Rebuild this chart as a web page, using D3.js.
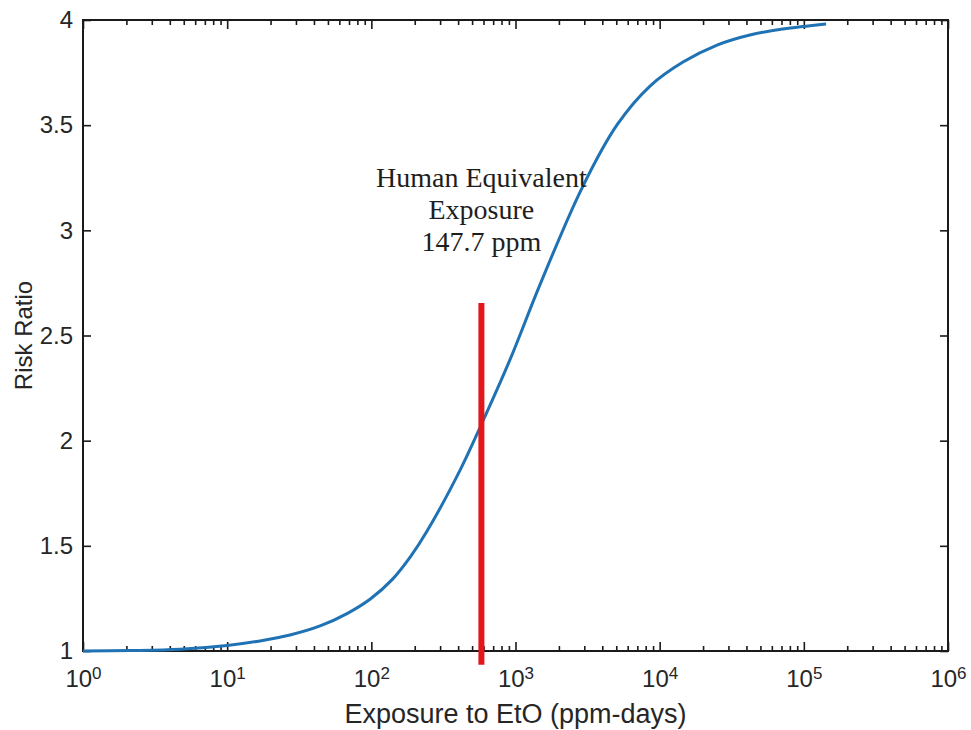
<!DOCTYPE html>
<html>
<head>
<meta charset="utf-8">
<script src="https://cdn.jsdelivr.net/npm/d3@7"></script>
<style>
  body { margin: 0; background: #fff; }
  svg { display: block; }
</style>
</head>
<body>
<svg id="chart" width="971" height="730"></svg>
<script>
// curve (ppm-days, risk ratio)
const exposure = [1, 2.12, 4.71, 10, 16.9, 27.3, 44.1, 67.8, 97.9, 141, 188, 243, 412, 586, 916,
  1479, 2891, 5058, 8570, 14520, 25000, 42270, 71600, 142600]
const riskRatio = [1.000, 1.002, 1.008, 1.026, 1.048, 1.076, 1.119, 1.178, 1.246, 1.343, 1.451, 1.569,
  1.859, 2.084, 2.385, 2.742, 3.201, 3.501, 3.686, 3.800, 3.881, 3.929, 3.957, 3.981]

// human equivalent marker
const markerExposure = 580
const markerRange = [0.935, 2.655]
const markerLines = ["Human Equivalent", "Exposure", "147.7 ppm"]

// ticks
const xMajor = [1, 10, 100, 1000, 10000, 100000, 1000000]
const yTicks = [1, 1.5, 2, 2.5, 3, 3.5, 4]

const svg = d3.select("#chart")
const margin = {top: 20, left: 83, right: 23, bottom: 79}
const width = +svg.attr("width") - margin.left - margin.right
const height = +svg.attr("height") - margin.top - margin.bottom

const g = svg.append("g").attr("transform", `translate(${margin.left},${margin.top})`)

const x = d3.scaleLog().domain([1, 1e6]).range([0, width])
const y = d3.scaleLinear().domain([1, 4]).range([height, 0])

// minor ticks 2..9 in every decade
let xMinor = []
for (let d = 0; d < 6; d++) {
  for (let m = 2; m <= 9; m++) xMinor.push(m * Math.pow(10, d))
}

const axisColor = "#1a1a1a"
const sans = "'Liberation Sans', Arial, sans-serif"

function styleAxis(sel) {
  sel.select(".domain").remove()
  sel.selectAll("line").attr("stroke", axisColor).attr("stroke-width", 1.6)
  sel.selectAll("text").attr("fill", "#262626")
    .style("font-family", sans)
    .style("font-size", "24px")
}

// bottom axis with superscript labels
const bottom = g.append("g").attr("transform", `translate(0,${height})`)
  .call(d3.axisBottom(x).tickValues(xMajor).tickSizeInner(-9).tickSizeOuter(0).tickPadding(19)
    .tickFormat(d => ""))
styleAxis(bottom)
bottom.selectAll(".tick text").each(function(d) {
  const t = d3.select(this)
  t.attr("dy", "0.71em")
  t.append("tspan").text("10")
  t.append("tspan").attr("dy", "-0.5em").style("font-size", "17px")
    .text(Math.round(Math.log10(d)))
})
bottom.selectAll(".tick text").attr("text-anchor", "middle")

g.append("g").attr("transform", `translate(0,${height})`)
  .call(d3.axisBottom(x).tickValues(xMinor).tickSize(-5).tickFormat(""))
  .call(styleAxis)

// top axis mirrors ticks
g.append("g")
  .call(d3.axisTop(x).tickValues(xMajor).tickSize(-9).tickFormat(""))
  .call(styleAxis)
g.append("g")
  .call(d3.axisTop(x).tickValues(xMinor).tickSize(-5).tickFormat(""))
  .call(styleAxis)

// left and right axes
g.append("g")
  .call(d3.axisLeft(y).tickValues(yTicks).tickSizeInner(-8).tickSizeOuter(0).tickPadding(10)
    .tickFormat(d3.format("")))
  .call(styleAxis)
g.append("g").attr("transform", `translate(${width},0)`)
  .call(d3.axisRight(y).tickValues(yTicks).tickSize(-8).tickFormat(""))
  .call(styleAxis)

// box
g.append("rect")
  .attr("width", width).attr("height", height)
  .attr("fill", "none").attr("stroke", axisColor).attr("stroke-width", 2)

// axis titles
svg.append("text")
  .attr("x", margin.left + width / 2).attr("y", 723)
  .attr("text-anchor", "middle").attr("fill", "#262626")
  .style("font-family", sans).style("font-size", "27px")
  .text("Exposure to EtO (ppm-days)")

svg.append("text")
  .attr("transform", `translate(32,${margin.top + y(2.5)}) rotate(-90)`)
  .attr("text-anchor", "middle").attr("fill", "#262626")
  .style("font-family", sans).style("font-size", "24px")
  .text("Risk Ratio")

// curve
const pts = exposure.map((e, i) => [e, riskRatio[i]])
const line = d3.line()
  .x(d => x(d[0]))
  .y(d => y(d[1]))
  .curve(d3.curveCatmullRom.alpha(0.5))

g.append("path")
  .datum(pts)
  .attr("d", line)
  .attr("fill", "none")
  .attr("stroke", "#1f72b3")
  .attr("stroke-width", 3)

// red marker
g.append("line")
  .attr("x1", x(markerExposure)).attr("x2", x(markerExposure))
  .attr("y1", y(markerRange[0])).attr("y2", y(markerRange[1]))
  .attr("stroke", "#e3161b").attr("stroke-width", 6)

const label = g.append("text")
  .attr("text-anchor", "middle")
  .attr("fill", "#1e1e1e")
  .style("font-family", "'Liberation Serif', 'DejaVu Serif', serif")
  .style("font-size", "28px")
markerLines.forEach((s, i) => {
  label.append("tspan")
    .attr("x", x(markerExposure))
    .attr("y", 167 + i * 32)
    .text(s)
})
</script>
</body>
</html>
